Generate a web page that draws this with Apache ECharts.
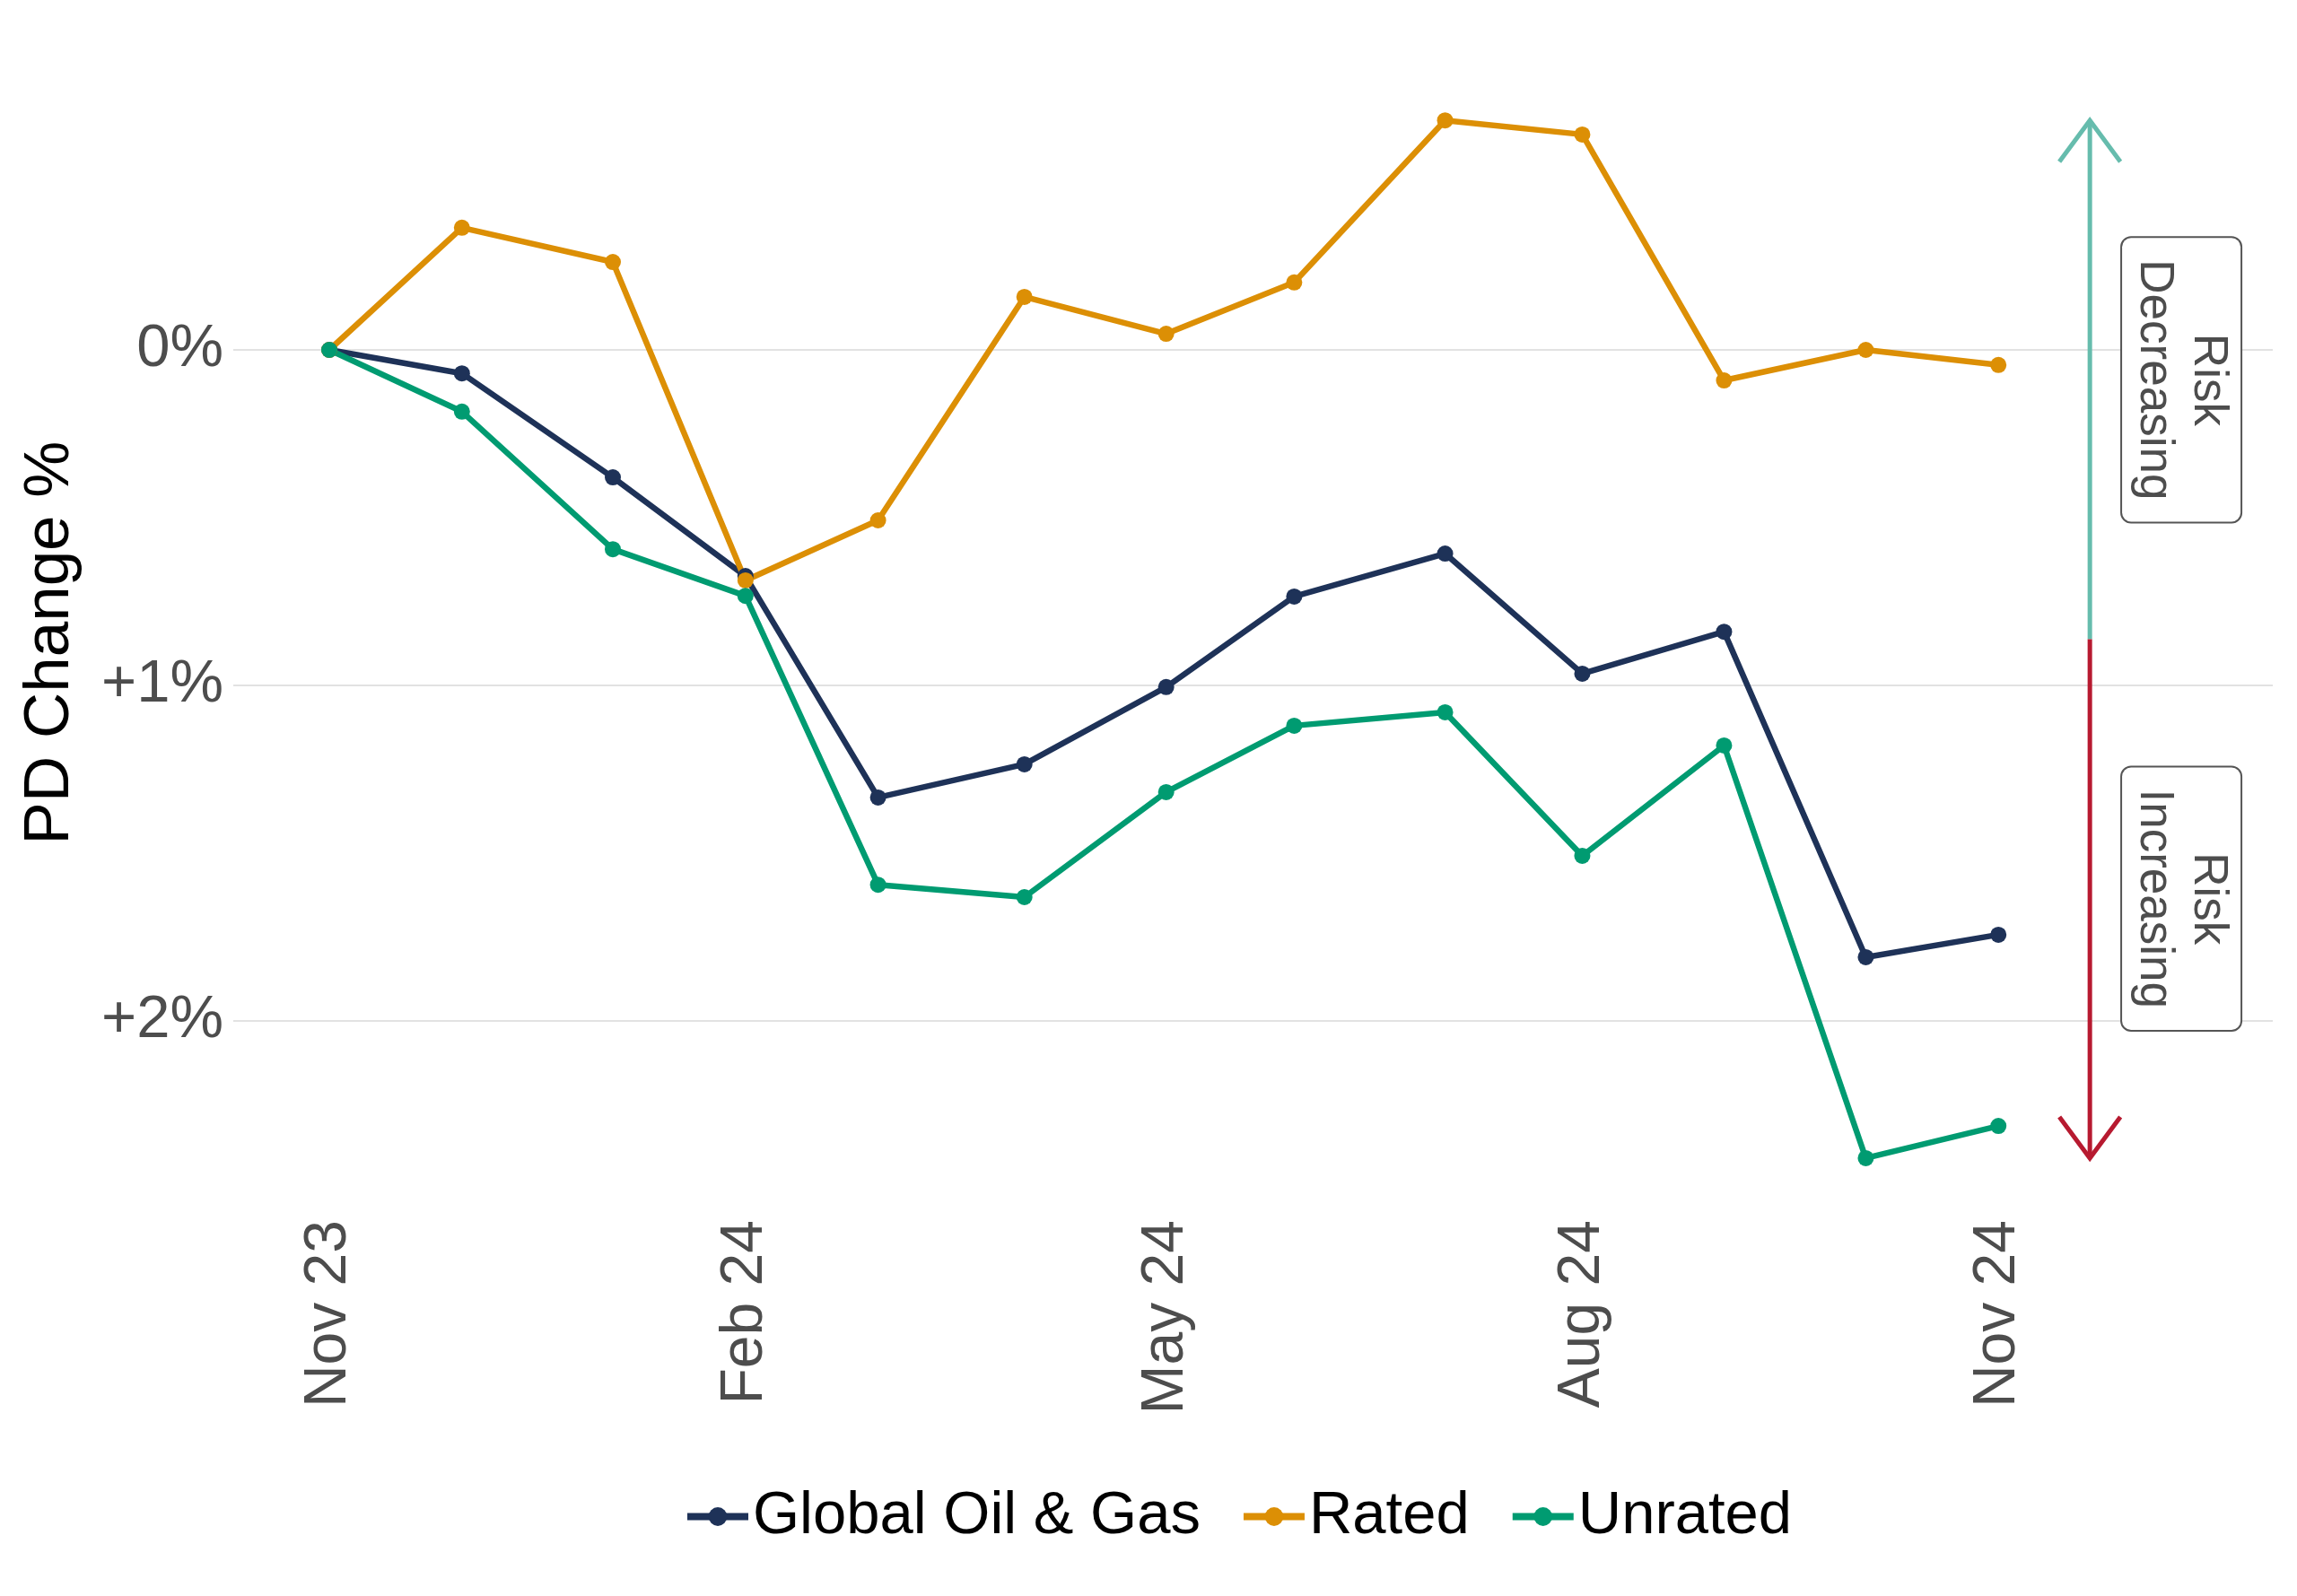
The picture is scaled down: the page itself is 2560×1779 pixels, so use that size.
<!DOCTYPE html>
<html>
<head>
<meta charset="utf-8">
<script src="https://cdn.jsdelivr.net/npm/echarts@6/dist/echarts.min.js"></script>
<style>
  html, body { margin: 0; padding: 0; background: #fff; }
  #chart { width: 2560px; height: 1779px; }
</style>
</head>
<body>
<div id="chart"></div>
<script>
// month-end business days
const dates = [
    '2023-11-30', '2023-12-29', '2024-01-31', '2024-02-29', '2024-03-29', '2024-04-30',
    '2024-05-31', '2024-06-28', '2024-07-31', '2024-08-30', '2024-09-30', '2024-10-31', '2024-11-29'
];
const tickDates = ['2023-11-30', '2024-02-29', '2024-05-31', '2024-08-30', '2024-11-29'];

// PD change in %, positive = risk increasing
const globalOilGas = [0, 0.07, 0.38, 0.674, 1.334, 1.235, 1.005, 0.735, 0.607, 0.965, 0.84, 1.81, 1.743];
const rated = [0, -0.364, -0.262, 0.687, 0.508, -0.158, -0.048, -0.201, -0.684, -0.642, 0.091, 0, 0.045];
const unrated = [0, 0.184, 0.594, 0.733, 1.594, 1.631, 1.318, 1.12, 1.08, 1.508, 1.179, 2.409, 2.313];

const seriesNames = ['Global Oil & Gas', 'Rated', 'Unrated'];
const seriesColors = ['#1e3258', '#dc8f05', '#009b71'];
const riskLabels = ['Risk\nDecreasing', 'Risk\nIncreasing'];
const months = ['Jan', 'Feb', 'Mar', 'Apr', 'May', 'Jun', 'Jul', 'Aug', 'Sep', 'Oct', 'Nov', 'Dec'];

const FONT = '"Liberation Sans", Arial, Helvetica, sans-serif';

const toTime = s => {
    const [y, m, d] = s.split('-').map(Number);
    return new Date(y, m - 1, d).getTime();
};

const allValues = [].concat(globalOilGas, rated, unrated);
const riskLo = Math.min(...allValues);
const riskHi = Math.max(...allValues);

const chart = echarts.init(document.getElementById('chart'), null, { renderer: 'canvas' });

const lineSeries = [globalOilGas, rated, unrated].map((vals, i) => ({
    name: seriesNames[i],
    type: 'line',
    data: vals.map((v, j) => [toTime(dates[j]), v]),
    symbol: 'circle',
    symbolSize: 18,
    showSymbol: true,
    lineStyle: { width: 6.5, color: seriesColors[i] },
    itemStyle: { color: seriesColors[i] },
    z: 3
}));

const riskSeries = {
    type: 'custom',
    silent: true,
    clip: false,
    z: 2,
    data: [[toTime('2024-12-19'), riskLo, riskHi, toTime('2025-01-08')]],
    renderItem: (params, api) => {
        const top = api.coord([api.value(0), api.value(1)]);
        const bot = api.coord([api.value(0), api.value(2)]);
        const x = top[0];
        const mid = (top[1] + bot[1]) / 2;
        const lx = api.coord([api.value(3), 0])[0];
        const up = '#66bcad';
        const down = '#b71a30';
        const box = (text, cy) => ({
            type: 'text',
            x: lx,
            y: cy,
            rotation: -Math.PI / 2,
            style: {
                text: text,
                fill: '#4d4d4d',
                font: '53px ' + FONT,
                align: 'center',
                verticalAlign: 'middle',
                lineHeight: 60,
                backgroundColor: '#fff',
                borderColor: '#555',
                borderWidth: 2,
                borderRadius: 10,
                padding: [6, 24]
            }
        });
        return {
            type: 'group',
            children: [
                { type: 'line', shape: { x1: x, y1: top[1], x2: x, y2: mid }, style: { stroke: up, lineWidth: 5 } },
                { type: 'line', shape: { x1: x, y1: mid, x2: x, y2: bot[1] }, style: { stroke: down, lineWidth: 5 } },
                { type: 'polyline', shape: { points: [[x - 34, top[1] + 46], [x, top[1]], [x + 34, top[1] + 46]] },
                  style: { stroke: up, lineWidth: 5, fill: null } },
                { type: 'polyline', shape: { points: [[x - 34, bot[1] - 46], [x, bot[1]], [x + 34, bot[1] - 46]] },
                  style: { stroke: down, lineWidth: 5, fill: null } },
                box(riskLabels[0], (top[1] + mid) / 2),
                box(riskLabels[1], (mid + bot[1]) / 2)
            ]
        };
    }
};

const clear = 'rgba(0,0,0,0)';
const grid = '#e2e2e2';

const option = {
    animation: false,
    backgroundColor: '#fff',
    textStyle: { fontFamily: FONT },
    grid: { left: 260, right: 27, top: 16, bottom: 454, containLabel: false },
    legend: {
        data: seriesNames,
        left: 757,
        top: 1652,
        itemWidth: 68,
        itemHeight: 26,
        itemGap: 44,
        lineStyle: { width: 8 },
        textStyle: { fontSize: 67, color: '#000', fontFamily: FONT }
    },
    xAxis: {
        // timestamps on a value axis so the labels can sit on the data dates
        type: 'value',
        min: toTime('2023-11-09'),
        max: toTime('2025-01-28'),
        axisLine: { show: false },
        axisTick: { show: false },
        splitLine: { show: false },
        axisLabel: {
            customValues: tickDates.map(toTime),
            rotate: 90,
            margin: 35,
            fontSize: 66,
            color: '#4d4d4d',
            fontFamily: FONT,
            formatter: v => {
                const d = new Date(v);
                return months[d.getMonth()] + ' ' + String(d.getFullYear()).slice(2);
            }
        }
    },
    yAxis: {
        type: 'value',
        inverse: true,
        min: -1,
        max: 2.5,
        interval: 0.5,
        name: 'PD Change %',
        nameLocation: 'middle',
        nameRotate: 90,
        nameGap: 168,
        nameTextStyle: { fontSize: 71, color: '#000', fontFamily: FONT, padding: [0, 92, 0, 0] },
        axisLine: { show: false },
        axisTick: { show: false },
        splitLine: {
            show: true,
            lineStyle: { width: 2, color: [clear, clear, grid, clear, grid, clear, grid, clear] }
        },
        axisLabel: {
            margin: 11,
            fontSize: 67,
            color: '#4d4d4d',
            fontFamily: FONT,
            formatter: v => v === 0 ? '0%' : (v > 0 && Number.isInteger(v) ? '+' + v + '%' : '')
        }
    },
    series: [...lineSeries, riskSeries]
};

chart.setOption(option);
</script>
</body>
</html>
